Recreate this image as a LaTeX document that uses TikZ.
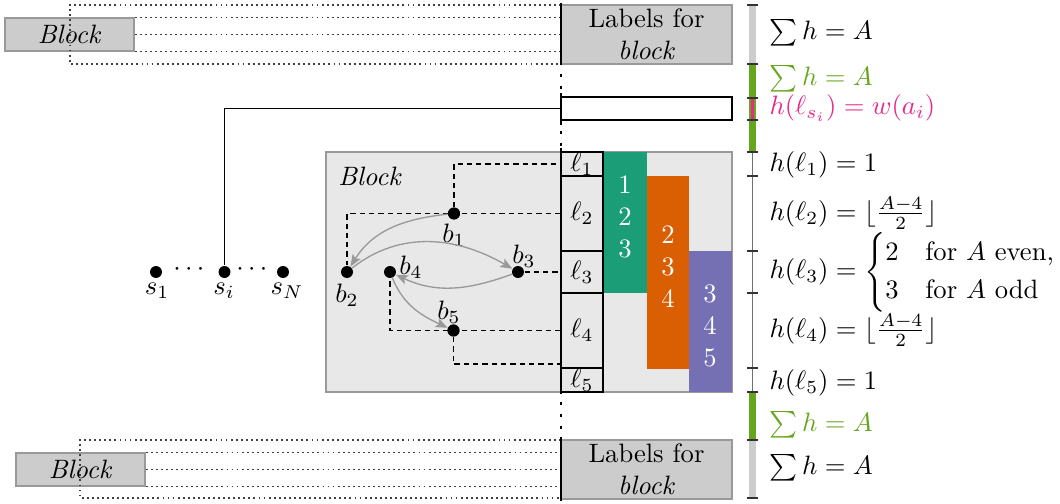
\documentclass[tikz,border=0pt]{standalone}
\usepackage{amsmath}
\usetikzlibrary{arrows.meta,fit}
\definecolor{dteal}{HTML}{1B9E77}
\definecolor{dorange}{HTML}{D95F02}
\definecolor{dpurple}{HTML}{7570B3}
\definecolor{dgreen}{HTML}{66A61E}
\definecolor{dpink}{HTML}{E7298A}
\definecolor{boxgray}{HTML}{CCCCCC}
\definecolor{blockgray}{HTML}{E8E8E8}
\definecolor{edgegray}{HTML}{999999}
\definecolor{axisgray}{HTML}{707070}
\begin{document}
\begin{tikzpicture}[x=0.376pt,y=-0.376pt,
  stackbox/.style={draw=edgegray,fill=boxgray,inner sep=0pt,line width=0.5pt},
  cell/.style={draw=black,inner sep=0pt,line width=0.45pt},
  bar/.style={fill=#1,inner sep=0pt},
  digits/.style={text=white,align=center,inner sep=0pt},
  dotnode/.style={circle,fill=black,inner sep=0pt,minimum size=4.5pt},
  txt/.style={inner sep=0pt},
  rtxt/.style={anchor=west,inner sep=0pt},
  wire/.style={draw=black,line width=0.45pt},
  stackline/.style={line width=0.45pt,dash pattern=on 0.7pt off 1.2pt,draw=black!75},
  guide/.style={line width=0.45pt,dash pattern=on 2pt off 1.5pt},
  axisthick/.style={line width=1.1pt},
  axisdots/.style={line width=1.1pt,dash pattern=on 1pt off 3.5pt},
  move/.style={draw=edgegray,line width=0.5pt,-{Stealth[length=4.5pt,width=3.6pt,inset=1pt]}},
  hbar/.style={line width=2.4pt,draw=#1},
  tick/.style={line width=0.55pt,draw=black!80},
]
\useasboundingbox (0,0) rectangle (1060,504);

% ---------- upper stack of blocks ----------
\node[stackbox,fit={(5,18) (134,51)}] (topblk) {};
\node[txt] at (topblk.center) {\textit{Block}};
\coordinate (topo1) at (561,5);
\coordinate (topo2) at (561,64);
\draw[stackline] (topo1) -- (70,5) -- (70,64) -- (topo2);
\draw[stackline] (topblk.north east) -- (topblk.north east -| topo1);
\draw[stackline] (topblk.east) -- (topblk.east -| topo1);
\draw[stackline] (topblk.south east) -- (topblk.south east -| topo1);
\node[stackbox,fit={(561,5) (732,64)}] (toplab) {};
\node[txt,align=center] at (toplab.center) {Labels for\\\textit{block}};

% ---------- lower stack of blocks ----------
\node[stackbox,fit={(16,453) (145,486)}] (botblk) {};
\node[txt] at (botblk.center) {\textit{Block}};
\coordinate (boto1) at (561,440);
\coordinate (boto2) at (561,498);
\draw[stackline] (boto1) -- (80,440) -- (80,498) -- (boto2);
\draw[stackline] (botblk.north east) -- (botblk.north east -| boto1);
\draw[stackline] (botblk.east) -- (botblk.east -| boto1);
\draw[stackline] (botblk.south east) -- (botblk.south east -| boto1);
\node[stackbox,fit={(561,440) (732,499)}] (botlab) {};
\node[txt,align=center] at (botlab.center) {Labels for\\\textit{block}};

% ---------- single label bar and the s-vertices ----------
\node[draw=black,fill=white,inner sep=0pt,line width=0.45pt,fit={(561,97) (732,120)}] (wbar) {};
\node[dotnode] (s1) at (156,272) {};
\node[dotnode] (si) at (224.5,272) {};
\node[dotnode] (sN) at (283,272) {};
\node[txt] (s1l) at (157,291) {$s_1$};
\node[txt] (sil) at (224,291) {$s_i$};
\node[txt] (sNl) at (287,291) {$s_N$};
\node[txt] (dots1) at (191,270) {$\cdots$};
\node[txt] (dots2) at (254,270) {$\cdots$};
\draw[wire] (wbar.west) -| (si);

% ---------- the block gadget ----------
\node[draw=edgegray,fill=blockgray,inner sep=0pt,line width=0.5pt,fit={(326,152) (732,392)}] (blk) {};
\node[txt] (blkl) at (370,176) {\textit{Block}};

\node[bar=dteal,fit={(603,152) (647,293)}] (tealbar) {};
\node[bar=dorange,fit={(647,176) (689,369)}] (orbar) {};
\node[bar=dpurple,fit={(689,251) (732,392)}] (pubar) {};
\node[digits] at (625,217) {1\\2\\3};
\node[digits] at (668,267) {2\\3\\4};
\node[digits] at (710,326) {3\\4\\5};

\node[cell,fit={(561,152) (603,176)}] (l1) {};
\node[cell,fit={(561,176) (603,251)}] (l2) {};
\node[cell,fit={(561,251) (603,293)}] (l3) {};
\node[cell,fit={(561,293) (603,368)}] (l4) {};
\node[cell,fit={(561,368) (603,392)}] (l5) {};
\node[txt] at (l1.center) {$\ell_1$};
\node[txt] at (l2.center) {$\ell_2$};
\node[txt] at (l3.center) {$\ell_3$};
\node[txt] at (l4.center) {$\ell_4$};
\node[txt] at (l5.center) {$\ell_5$};

\node[dotnode] (b1) at (454,213.5) {};
\node[dotnode] (b2) at (347,272) {};
\node[dotnode] (b3) at (518,272) {};
\node[dotnode] (b4) at (390,272) {};
\node[dotnode] (b5) at (453.5,330.5) {};
\node[txt] (b1l) at (454,235) {$b_1$};
\node[txt] (b2l) at (347,295) {$b_2$};
\node[txt] (b3l) at (524,256) {$b_3$};
\node[txt] (b4l) at (411,267) {$b_4$};
\node[txt] (b5l) at (449,312) {$b_5$};

% dashed links from the b-vertices to their label cells
\coordinate (l5in) at (561,364);
\draw[guide] (b1) |- (l1.west);
\draw[guide] (l2.west) -| (b2);
\draw[guide] (b3) -- (l3.west);
\draw[guide] (l4.west) -| (b4);
\draw[guide] (b5) |- (l5in);
\node[dotnode] at (b1) {};
\node[dotnode] at (b5) {};

\draw[move] (b1) to[out=186,in=58] (b2);
\draw[move] (b2) to[out=38,in=150] (b3);
\draw[move] (b3) to[out=200,in=-25] (b4);
\draw[move] (b4) to[out=-68,in=155] (b5);

% ---------- the vertical axis of label positions ----------
\draw[axisthick] (561,3) -- (561,65);
\draw[axisdots] (561,74) -- (561,92);
\draw[axisthick] (561,93) -- (561,125);
\draw[axisdots] (561,131) -- (561,146);
\draw[axisthick] (561,148) -- (561,394);
\draw[axisdots] (561,402) -- (561,434);
\draw[axisthick] (561,437) -- (561,501);

% ---------- height scale on the right ----------
\coordinate (h0) at (752.5,5);
\coordinate (h1) at (752.5,64);
\coordinate (h2) at (752.5,98);
\coordinate (h3) at (752.5,120);
\coordinate (h4) at (752.5,152);
\coordinate (h5) at (752.5,176);
\coordinate (h6) at (752.5,251);
\coordinate (h7) at (752.5,293);
\coordinate (h8) at (752.5,368);
\coordinate (h9) at (752.5,392);
\coordinate (h10) at (752.5,440);
\coordinate (h11) at (752.5,498);
\draw[hbar=boxgray] (h0) -- (h1);
\draw[hbar=dgreen] (h1) -- (h4);
\draw[line width=0.9pt,draw=dpink] (h2) -- (h3);
\draw[line width=0.7pt,draw=axisgray] (h4) -- (h9);
\draw[hbar=dgreen] (h9) -- (h10);
\draw[hbar=boxgray] (h10) -- (h11);
\foreach \t in {h0,h1,h2,h3,h4,h5,h6,h7,h8,h9,h10,h11}
  \draw[tick] ([xshift=-2pt]\t) -- ([xshift=2pt]\t);

\node[rtxt] at (769,33) {$\sum h = A$};
\node[rtxt,text=dgreen] at (769,79) {$\sum h = A$};
\node[rtxt,text=dpink] at (769,108) {$h(\ell_{s_i}) = w(a_i)$};
\node[rtxt] at (769,165) {$h(\ell_1) = 1$};
\node[rtxt] at (769,213) {$h(\ell_2) = \lfloor\frac{A-4}{2}\rfloor$};
\node[rtxt] at (769,272) {$h(\ell_3) = \begin{cases}2 & \text{for $A$ even,}\\ 3 & \text{for $A$ odd}\end{cases}$};
\node[rtxt] at (769,330) {$h(\ell_4) = \lfloor\frac{A-4}{2}\rfloor$};
\node[rtxt] at (769,383) {$h(\ell_5) = 1$};
\node[rtxt,text=dgreen] at (769,425) {$\sum h = A$};
\node[rtxt] at (769,468) {$\sum h = A$};
\end{tikzpicture}
\end{document}
